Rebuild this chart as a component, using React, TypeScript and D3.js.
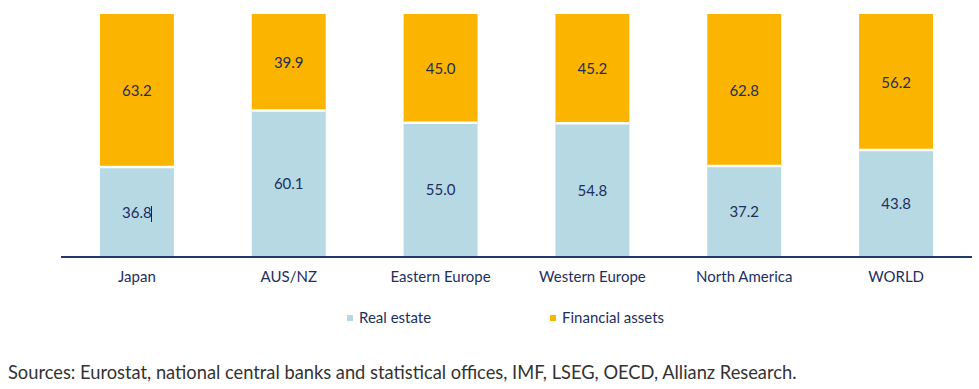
import React from 'react';
import * as d3 from 'd3';

const categories = ['Japan', 'AUS/NZ', 'Eastern Europe', 'Western Europe', 'North America', 'WORLD'];
const realEstate = [36.8, 60.1, 55.0, 54.8, 37.2, 43.8];
const financialAssets = [63.2, 39.9, 45.0, 45.2, 62.8, 56.2];
const seriesNames = ['Real estate', 'Financial assets'];
const seriesColors = ['#b6d9e4', '#fbb400'];

const W = 979;
const H = 389;
const font = 'Lato, "Open Sans", sans-serif';
const navy = '#1e2f5e';

export default function App() {
    const x = d3.scaleBand<string>()
        .domain(categories)
        .range([61, 972])
        .paddingInner(0.513)
        .paddingOuter(0.2565);

    const y = d3.scaleLinear().domain([0, 100]).range([257, 14]);

    const rows = categories.map((c, i) => ({ cat: c, re: realEstate[i], fa: financialAssets[i] }));
    const stack = d3.stack<any>().keys(['re', 'fa'])(rows);

    return (
        <svg width={W} height={H} style={{ position: 'absolute', left: 0, top: 0 }}>
            {stack.map((layer, li) => (
                <g key={li}>
                    {layer.map((d, i) => (
                        <g key={i}>
                            <rect
                                x={x(categories[i])!}
                                y={y(d[1])}
                                width={x.bandwidth()}
                                height={y(d[0]) - y(d[1])}
                                fill={seriesColors[li]}
                            />
                            <text
                                x={x(categories[i])! + x.bandwidth() / 2}
                                y={(y(d[0]) + y(d[1])) / 2}
                                dy="0.35em"
                                textAnchor="middle"
                                fontFamily={font}
                                fontSize={15}
                                fill={navy}
                            >
                                {(d[1] - d[0]).toFixed(1)}
                            </text>
                        </g>
                    ))}
                </g>
            ))}
            {/* white separators between segments */}
            {stack[0].map((d, i) => (
                <line key={i}
                    x1={x(categories[i])!}
                    x2={x(categories[i])! + x.bandwidth()}
                    y1={y(d[1]) - 0.5}
                    y2={y(d[1]) - 0.5}
                    stroke="#fff"
                    strokeWidth={2.5}
                />
            ))}
            {/* stray cursor mark next to Japan label */}
            <line x1={151.5} x2={151.5} y1={206} y2={222} stroke="#222" strokeWidth={1} />

            <line x1={61} x2={972} y1={257} y2={257} stroke="#1f3a6b" strokeWidth={2} />
            {categories.map(c => (
                <text key={c}
                    x={x(c)! + x.bandwidth() / 2}
                    y={277}
                    dy="0.35em"
                    textAnchor="middle"
                    fontFamily={font}
                    fontSize={15}
                    fill={navy}
                >{c}</text>
            ))}

            {seriesNames.map((s, i) => {
                const lx = [347, 550][i];
                return (
                    <g key={s}>
                        <rect x={lx} y={315} width={6} height={6} fill={seriesColors[i]} />
                        <text x={lx + 12} y={318} dy="0.35em" fontFamily={font} fontSize={15} fill={navy}>{s}</text>
                    </g>
                );
            })}

            <text x={8} y={373} dy="0.35em" fontFamily={font} fontSize={18.3} fill="#333">
                Sources: Eurostat, national central banks and statistical offices, IMF, LSEG, OECD, Allianz Research.
            </text>
        </svg>
    );
}
